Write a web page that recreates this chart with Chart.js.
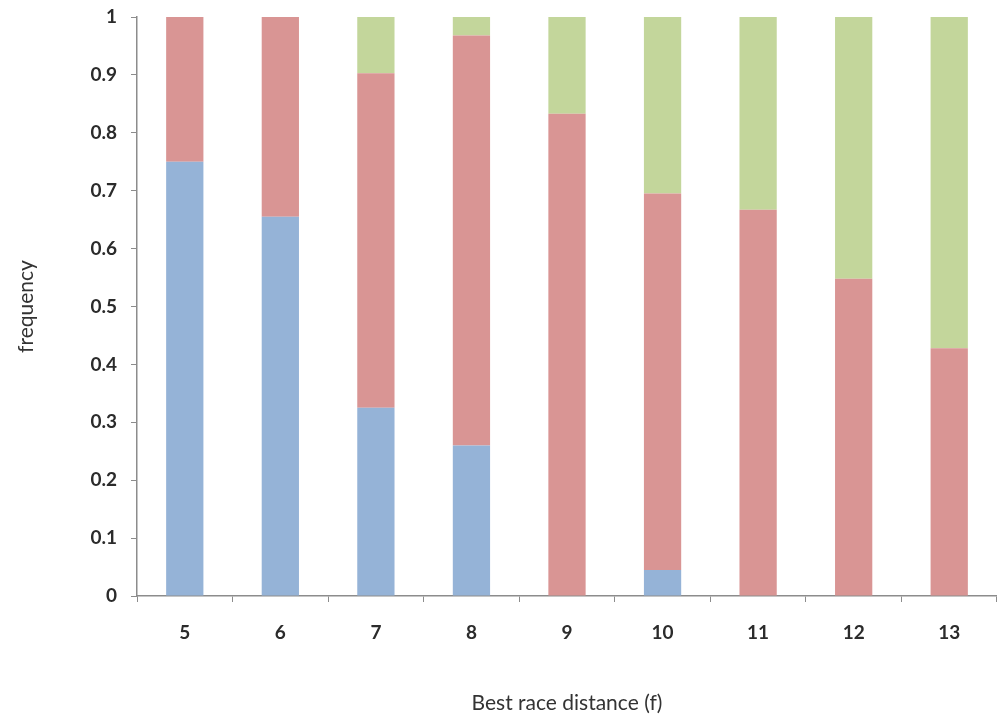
<!DOCTYPE html>
<html>
<head>
<meta charset="utf-8">
<script src="https://cdn.jsdelivr.net/npm/chart.js@4/dist/chart.umd.min.js"></script>
<style>
  html, body { margin: 0; padding: 0; background: #fff; }
  #wrap { width: 997px; height: 716px; position: relative; }
</style>
</head>
<body>
<div id="wrap"><canvas id="myChart"></canvas></div>
<script>
// race distances (furlongs)
const distances = ['5', '6', '7', '8', '9', '10', '11', '12', '13'];
// stacked frequencies
const blueVals  = [0.75, 0.655, 0.325, 0.26, 0, 0.045, 0, 0, 0];
const redVals   = [0.25, 0.345, 0.578, 0.708, 0.833, 0.65, 0.667, 0.548, 0.428];
const greenVals = [0, 0, 0.097, 0.032, 0.167, 0.305, 0.333, 0.452, 0.572];
const yTickLabels = ['0', '0.1', '0.2', '0.3', '0.4', '0.5', '0.6', '0.7', '0.8', '0.9', '1'];

const tickFont = { family: 'Lato', size: 19, weight: 'bold', lineHeight: 1 };
const titleFont = { family: 'Lato', size: 21 };
const axisGray = '#8c8c8c';

const ctx = document.getElementById('myChart').getContext('2d');
new Chart(ctx, {
    type: 'bar',
    data: {
        labels: distances,
        datasets: [
            { label: 'blue',  data: blueVals,  backgroundColor: '#95b3d7' },
            { label: 'red',   data: redVals,   backgroundColor: '#d99594' },
            { label: 'green', data: greenVals, backgroundColor: '#c3d69b' }
        ]
    },
    options: {
        responsive: true,
        maintainAspectRatio: false,
        animation: false,
        layout: { padding: { top: 17, right: 0, left: 14, bottom: 0 } },
        datasets: { bar: { barPercentage: 0.39, categoryPercentage: 1 } },
        plugins: {
            legend: { display: false },
            tooltip: { enabled: false }
        },
        scales: {
            x: {
                stacked: true,
                grid: { drawOnChartArea: false, drawTicks: true, tickLength: 6, color: axisGray },
                border: { color: axisGray, width: 1.5 },
                ticks: { font: tickFont, color: '#2b2b2b', padding: 21 },
                title: {
                    display: true,
                    text: 'Best race distance (f)',
                    font: titleFont,
                    color: '#333',
                    padding: { top: 45, bottom: 0 }
                },
                afterFit: s => { s.height = 120; }
            },
            y: {
                stacked: true,
                min: 0,
                max: 1,
                ticks: {
                    stepSize: 0.1,
                    font: tickFont,
                    color: '#2b2b2b',
                    padding: 14,
                    callback: (v, i) => yTickLabels[i]
                },
                grid: { drawOnChartArea: false, drawTicks: true, tickLength: 6, color: axisGray },
                border: { color: axisGray, width: 1.5 },
                title: {
                    display: true,
                    text: 'frequency',
                    font: titleFont,
                    color: '#333',
                    padding: { top: 0, bottom: 40 }
                },
                afterFit: s => { s.width = 123; s.paddingTop = 0; }
            }
        }
    }
});
</script>
</body>
</html>
